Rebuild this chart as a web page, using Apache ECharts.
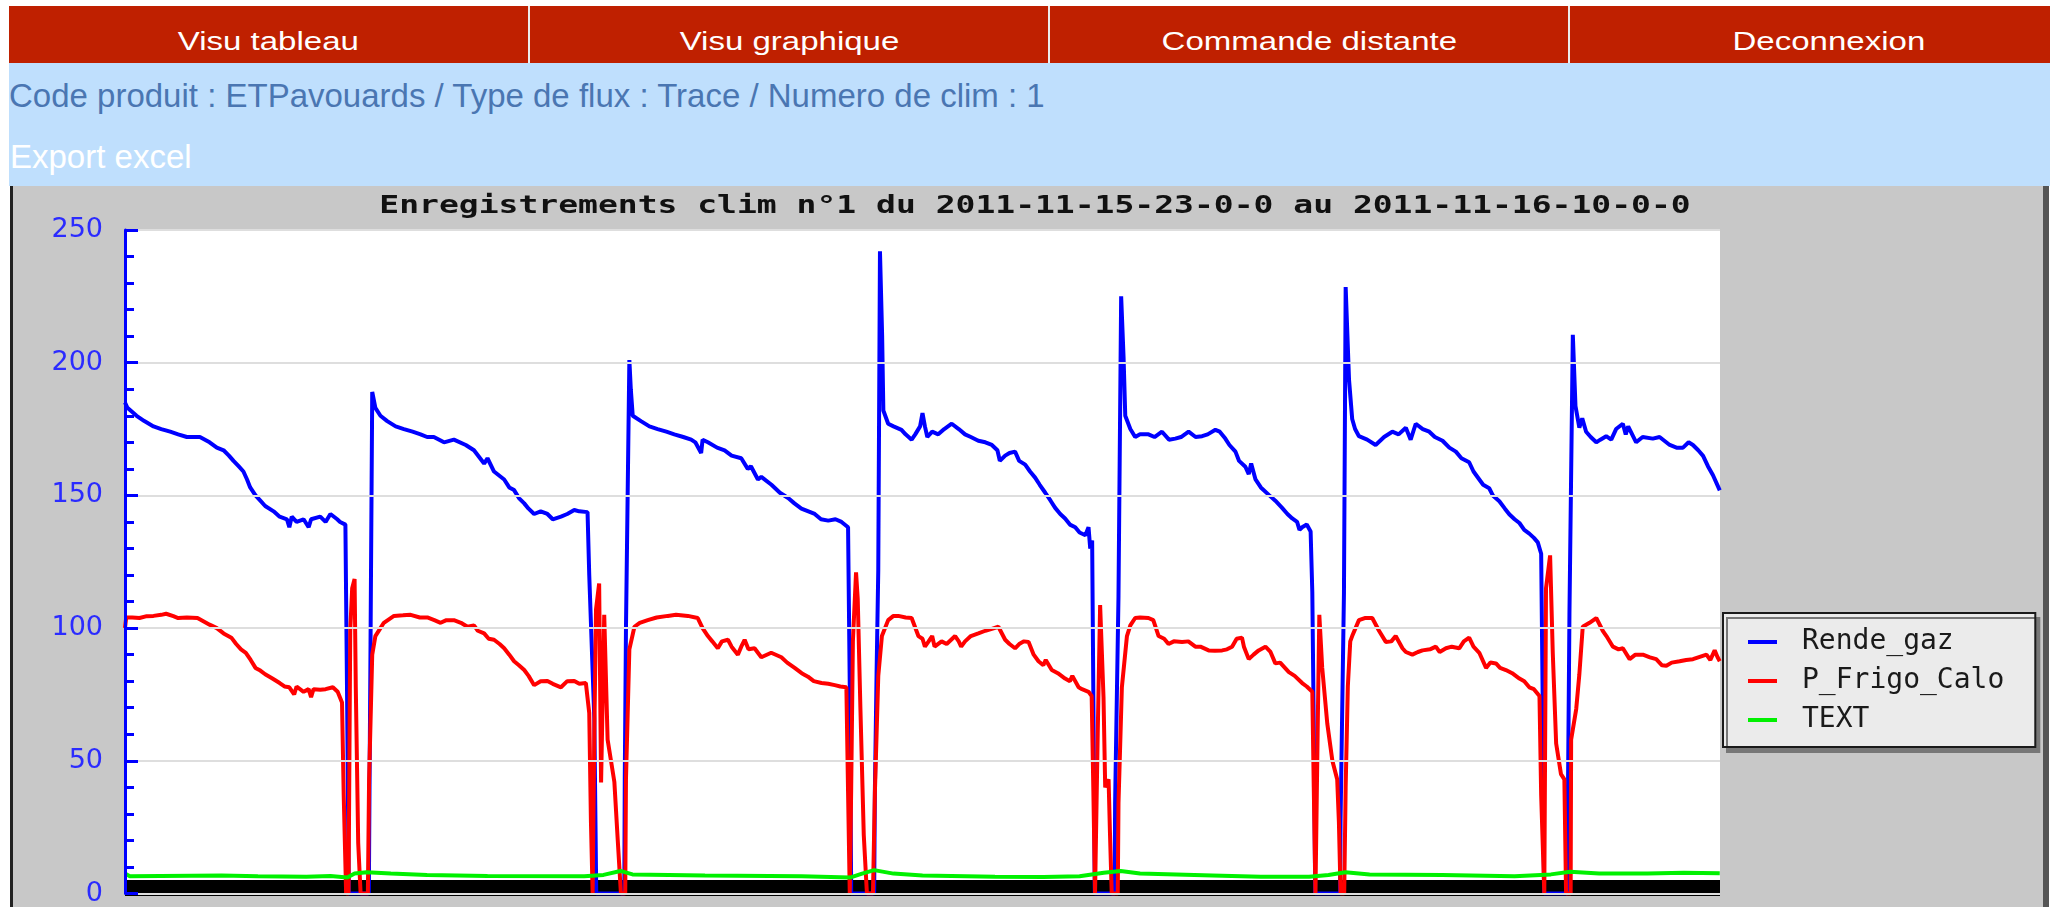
<!DOCTYPE html>
<html>
<head>
<meta charset="utf-8">
<script src="https://cdn.jsdelivr.net/npm/echarts@6/dist/echarts.min.js"></script>
<style>
  body { margin: 0; width: 2058px; height: 907px; overflow: hidden; background: #fff; font-family: "Liberation Sans", Arial, sans-serif; }
  #nav { position: absolute; left: 9px; top: 6px; width: 2041px; height: 57px; background: #bf2000; overflow: hidden; white-space: nowrap; }
  #nav div { display: inline-block; width: 518px; height: 57px; line-height: 57px; text-align: center; color: #fff; font-size: 26px; border-left: 2px solid #ececec; vertical-align: top; }
  #nav div:first-child { border-left: none; width: 519px; }
  #nav span { display: inline-block; position: relative; top: 7px; transform: scaleX(1.27); }
  #info { position: absolute; left: 9px; top: 63px; width: 2041px; height: 123px; background: #bfdffd; }
  #line1 { position: absolute; left: 0; top: 14px; font-size: 33px; color: #4a76b2; white-space: nowrap; }
  #line2 { position: absolute; left: 1px; top: 75px; font-size: 33px; color: #fff; white-space: nowrap; }
  #frame { position: absolute; left: 10px; top: 186px; width: 2030px; height: 721px; background: #c8c8c8; border-left: 3px solid #222; border-right: 6px solid #555; }
  #chart { position: absolute; left: 0; top: 0; width: 2030px; height: 721px; }
</style>
</head>
<body>
<div id="nav"><div><span>Visu tableau</span></div><div><span>Visu graphique</span></div><div><span>Commande distante</span></div><div><span>Deconnexion</span></div></div>
<div id="info">
  <div id="line1">Code produit : ETPavouards / Type de flux : Trace / Numero de clim : 1</div>
  <div id="line2">Export excel</div>
</div>
<div id="frame"><div id="chart"></div></div>
<script>
// minutes depuis 2011-11-15 23:00
var titre = 'Enregistrements clim n°1 du 2011-11-15-23-0-0 au 2011-11-16-10-0-0';
var yTicks = [0, 50, 100, 150, 200, 250];

var rendeGaz = [
  [0,185],[1,183],[4.8,180],[8,178],[11.8,176],[15,175],[18.7,174],[22,173],[25.6,172],[31,172],[35,170],[38,168],
  [40.8,167],[43,165],[44.9,163],[47,161],[49,159],[50.5,156],[51.8,153],[54,150],[56,148],[58,146],[61.5,144],[64,142],
  [67,141],[68,138],[69,142],[71,140],[73.9,141],[76,138],[77,141],[80.8,142],[83,140],[85,143],[87.8,141],[89,140],
  [91.2,139],[91.9,74],[92.6,0],[100.9,0],[101.2,43],[101.6,94],[102.3,189],[103.6,183],[105.7,180],[108.5,178],
  [112,176],[115.4,175],[119,174],[122.3,173],[125,172],[127.8,172],[132,170],[136.1,171],[141,169],[144.4,167],
  [148.6,162],[150,164],[152.7,159],[156.9,156],[159,153],[161,152],[163,149],[165.2,147],[167,145],[169.3,143],
  [172,144],[174.8,143],[177,141],[180.4,142],[183,143],[185.9,144.5],[188,144],[191.4,143.7],[192.1,120],[194.2,66],
  [195,0],[206.6,0],[206.8,43],[207.3,100],[208.7,201],[209.3,190],[210.1,180],[213.5,178],[217,176],[220.4,175],
  [224,174],[227.3,173],[231,172],[234.3,171],[236,170],[238.4,166],[239,171],[241.2,170],[245,168],[248.1,167],
  [251,165],[255,164],[257.7,160],[259,161],[261.9,156],[263.3,157],[267.5,154],[271,151],[274.4,149],[277,147],
  [279.9,145],[285.4,143],[288,141],[291,140.5],[294,141],[296.5,140],[299.2,138],[299.9,78],[300.5,0],[310,0],
  [310.3,39],[311,83],[311.7,122],[312.4,242],[313.3,210],[313.8,182],[315.8,177],[318,176],[321.3,174.7],[323,173],
  [325.5,171],[327,173],[329,176],[330,181],[331,176],[332,172],[334,174],[336.5,173],[339,175],[342.1,177],[345,175],
  [347.6,173],[350,172],[353.1,170.6],[356,170],[358.7,169],[361,167],[362,163],[364.2,165],[366,166],[368.3,166.5],
  [370,163],[372.5,161.6],[374.5,159],[376.6,156.7],[378.5,154],[380.8,151],[383,148],[384.9,145.3],[387,143],
  [389,141.3],[391,139],[393.2,138],[395,136],[397.4,135],[398.7,138],[399.4,130],[400.2,133],[400.7,74],[401.3,0],
  [409.5,0],[409.7,34],[411.1,112],[412.2,225],[413.2,202],[413.9,180],[416,175],[418,172],[420,173],[423.5,173],
  [426,172],[429.1,174],[432,171],[434.6,171.4],[437,172],[440.1,174],[443,172],[445.7,172.3],[448,173],[451.2,174.7],
  [453,174],[455.3,171.4],[457,169],[459.5,166.5],[461,163],[463.6,160.8],[465,158],[466,162],[467.8,156],[470,153],
  [473.3,150.2],[476,148],[478.8,145.3],[481,143],[483,141.3],[485,140],[486,137],[487.1,138],[489,139],[490.6,136.4],
  [491.3,113.5],[491.9,63],[492.5,0],[502.8,0],[503,28],[504.4,113.5],[505.1,228.5],[506.5,193.5],[507.8,178.8],
  [509,175],[510.6,172.3],[514,171],[517.5,169],[521,172],[524.4,174],[527,173],[530,175.5],[532,171],[534.1,177],
  [537,175],[539.7,174],[542,172],[545.2,170.6],[548,168],[550.7,166.5],[553,164],[556.2,162.5],[558,159],[560.4,156],
  [562,154],[564.5,152.7],[566,150],[568.7,147.8],[571,145],[572.8,142.9],[575,141],[577,139.6],[579,137],[581.1,135.6],
  [583,134],[584.6,132.3],[586,128],[586.6,76],[587.2,0],[596.8,0],[597,28],[597.7,105],[599.1,210.5],[600.2,183.6],
  [601.8,175.5],[603,179],[604.6,174],[606.5,172],[608.8,170],[610.5,171],[612.9,172.3],[615,171],[617,175],[619.8,177],
  [621,173],[622,176],[625.3,170],[628,172],[632.2,171.4],[635,172],[639.2,169],[642,168],[644.7,168],[647,170],
  [648.8,169],[651,167],[653,164.9],[655,161],[657.1,157.6],[659.9,151.9]
];

var pFrigoCalo = [
  [0,100],[0.5,104],[3,104],[6,103.8],[9,104.5],[11.8,104.6],[15,105],[17,105.4],[20,104.5],[22,103.8],[25.6,104],
  [30,103.8],[35,101.3],[38,100],[40.8,98],[44,96.4],[46,94],[48,92],[50,90.7],[52,88],[54,85],[56,84],[58,82.6],
  [61,81],[64,79.3],[66,78],[68,77.7],[70,75],[71,78],[73.9,76],[76,77],[77,74],[78,77],[80.8,76.8],[83,77],[86,77.7],
  [88,76],[89.8,72],[90.5,37],[91.5,0],[92.5,0],[93.2,99],[94,115],[95,118.5],[95.5,77.7],[96.5,19],[97.5,0],
  [100.5,0],[101,43],[102.3,90],[103.6,97],[105.7,100],[107.1,102],[111.3,104.6],[115,104.8],[118.2,105],[122,104],
  [125.1,104],[128,103],[130.6,102],[133,103],[136.1,103],[139,102],[141.7,100.5],[144.4,101],[146,99],[148.6,98],
  [150.5,96],[152.7,95.6],[155,94],[156.9,92.4],[159,90],[161,87.5],[163,86],[165.2,84.2],[167,82],[169.3,78.5],
  [172,80],[174.8,80.1],[177,79],[180.4,77.7],[183,80],[185.9,80.1],[188,79],[190.7,79.3],[192.1,68],[192.8,27],
  [193.5,0],[194.2,60],[194.9,107],[196.2,116.8],[197,41.8],[198.3,105],[199.7,58],[201.1,50],[202.5,42],[203.9,20],
  [205.2,0],[207,0],[207.3,43],[208.7,92],[210.8,100.5],[213,102],[216.3,103],[220,104],[224.6,104.6],[228,105],
  [232.9,104.6],[237,103.8],[239,100],[241.2,97],[243,95],[245.3,92.4],[247,95],[249.5,95.6],[251,93],[253.6,90],
  [255,93],[256.4,95.6],[258,92],[260.5,92.4],[263.3,89],[267.4,90.7],[271.6,89],[274,87],[277.1,85],[280,83],
  [282.6,81.7],[285,80],[288.2,79.3],[291,79],[293.7,78.5],[296,78],[298.5,77.7],[299.2,38],[299.9,0],[300.5,40],
  [301.2,95],[302.5,121],[303.2,111],[304.3,70],[305.7,22],[307,0],[309.5,0],[310.3,38],[311.7,82],[313.2,97],
  [315.8,103],[318,104.6],[320,104.6],[323,104],[325.5,103.8],[328.3,97],[330,96],[331,93],[332.4,94.8],[334,97],
  [335,93],[337.9,95],[340,94],[343.5,97],[345,95],[346,93],[347.6,95],[350,97],[353.1,98],[356,99],[358.7,99.7],
  [361.4,100.5],[364.2,95.6],[366,94],[368.3,92.4],[370,94],[372,95],[373.9,94.8],[376,90],[378,87.5],[380,86],
  [381,88],[383.5,84.2],[386,83],[389,81],[391,80],[392,82],[394.6,77.7],[396,77],[398.7,76],[400,74.4],[400.7,38.6],
  [401.4,0],[402.5,60],[403.5,108.7],[404.9,74],[405.6,40],[407,43],[407.6,22],[408.3,0],[410.8,0],[411.1,34],
  [412.5,77.7],[414.6,97],[416,101],[418,103.8],[420,104],[423.5,103.8],[425.5,103],[427.7,97],[430,96],[431.8,94],
  [434,95],[437.4,94.8],[440,95],[442.9,93],[445,93],[448.4,91.6],[451,91.5],[454,91.6],[456,92],[458.1,93],[460,96],
  [462.2,96.4],[463,93],[465,88.3],[467,90],[469.1,91.6],[471.9,93],[474,91],[476,86.7],[478,87],[481.6,83.4],
  [484,82],[487.1,79.3],[489,78],[491.3,76],[491.9,40],[492.6,0],[493.5,60],[494.2,105],[495.4,85],[497.5,64],
  [499.6,50],[501.6,43],[502.3,27],[503,0],[504.5,0],[505.1,40],[506,78],[507,95],[507.8,97],[510.6,103],[513,103.8],
  [516.1,103.8],[518.9,99],[521.7,94.8],[524,95],[525.8,97],[528.6,92.4],[530,91],[532.7,90],[535,91],[536.9,91.6],
  [540,92],[542.4,93],[544,91],[546.6,92.4],[549,93],[552.1,92.4],[554,95],[556.2,96.4],[558,93],[560.4,90.7],
  [563.2,85],[565,87],[567.3,86.7],[569,85],[571.4,84.2],[574,83],[577,81],[579,80],[581.1,77.7],[583,77],[585.3,74.4],
  [586,37],[587.3,0],[588,115],[589.7,127.4],[590.8,90.7],[592.2,56.5],[594.2,45],[595.6,43],[596.3,0],[598.2,0],
  [598.4,58],[600.5,69.5],[601.8,82.6],[603.2,100.5],[606,102],[608.8,103.8],[611.5,99],[613,97],[615.7,93],[618,92],
  [619.8,92.4],[622.6,88.3],[625,90],[628.1,90],[631,89],[633.6,88.3],[636,86],[637.8,85.8],[640,87],[643.3,87.5],
  [646,88],[648.8,88.3],[651,89],[654.4,90],[656,88],[657.8,91.6],[659,89],[659.9,87.5]
];

var text = [
  [0,7.5],[2,6.5],[40,6.8],[55,6.5],[75,6.3],[85,6.6],[92,6],[95,7.5],[100,8],[110,7.5],[125,7],[150,6.6],[190,6.5],
  [198,7],[205,8.5],[210,7.2],[240,6.8],[280,6.5],[300,6],[305,7.5],[310,8.8],[318,7.5],[330,6.8],[360,6.3],[380,6.2],
  [395,6.5],[405,7.8],[412,8.5],[420,7.5],[450,6.8],[470,6.3],[490,6.3],[498,7],[505,8],[515,7.2],[545,7],[575,6.5],
  [590,7.2],[598,8.2],[610,7.5],[630,7.5],[645,7.8],[659.9,7.6]
];

var chart = echarts.init(document.getElementById('chart'));
var blue = '#0000ff';

var option = {
  animation: false,
  backgroundColor: '#c8c8c8',
  graphic: [{
    type: 'text',
    x: 1022, y: 20,
    scaleX: 1.32,
    style: {
      text: titre,
      x: 0, y: 0,
      textAlign: 'center',
      textVerticalAlign: 'middle',
      font: 'bold 25px "DejaVu Sans Mono", monospace',
      fill: '#111'
    }
  }],
  grid: {
    left: 112, top: 44, right: 323, bottom: 11,
    show: true, backgroundColor: '#fff', borderWidth: 0
  },
  legend: {
    data: ['Rende_gaz', 'P_Frigo_Calo', 'TEXT'],
    orient: 'vertical',
    left: 1710, top: 427,
    icon: 'rect', itemWidth: 29, itemHeight: 4, itemGap: 9,
    padding: [14, 31, 12, 25],
    backgroundColor: '#ebebeb',
    borderColor: '#1a1a1a', borderWidth: 2,
    shadowColor: '#777', shadowOffsetX: 4, shadowOffsetY: 5, shadowBlur: 0,
    selectedMode: false,
    textStyle: {
      fontFamily: '"DejaVu Sans Mono", monospace',
      fontSize: 28, lineHeight: 30, color: '#1a1a1a',
      padding: [0, 0, 0, 20]
    }
  },
  xAxis: {
    type: 'value', min: 0, max: 660,
    z: 3,
    offset: -6,
    axisLine: { show: true, onZero: false, lineStyle: { color: '#000', width: 16, cap: 'butt' } },
    axisTick: { show: false },
    axisLabel: { show: false },
    splitLine: { show: false }
  },
  yAxis: {
    type: 'value', min: yTicks[0], max: yTicks[yTicks.length - 1], interval: 50,
    z: 4,
    axisLine: { show: true, lineStyle: { color: blue, width: 3 } },
    axisTick: { show: true, inside: true, length: 13, lineStyle: { color: blue, width: 3 } },
    minorTick: { show: true, splitNumber: 5, length: 9, lineStyle: { color: blue, width: 3 } },
    axisLabel: { color: '#2b2bff', fontFamily: '"DejaVu Sans", sans-serif', fontSize: 27, margin: 22 },
    splitLine: { show: true, lineStyle: { color: '#dedede', width: 2 } }
  },
  series: [
    { name: 'Rende_gaz', type: 'line', data: rendeGaz, showSymbol: false, color: blue, lineStyle: { width: 4, color: blue } },
    { name: 'P_Frigo_Calo', type: 'line', data: pFrigoCalo, showSymbol: false, color: '#ff0000', lineStyle: { width: 4, color: '#ff0000' } },
    { name: 'TEXT', type: 'line', data: text, showSymbol: false, color: '#00f000', lineStyle: { width: 4, color: '#00f000' } }
  ]
};
chart.setOption(option);
</script>
</body>
</html>
